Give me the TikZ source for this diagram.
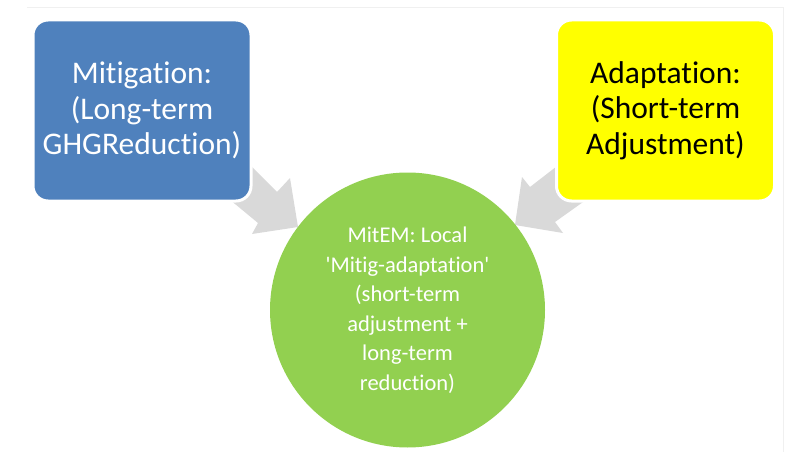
\documentclass[tikz,border=0pt]{standalone}
\usepackage{fontspec}
\setmainfont{Carlito}[Ligatures={TeXOff,NoCommon}]
\definecolor{mitblue}{HTML}{4F81BD}
\definecolor{adaptyellow}{HTML}{FFFF00}
\definecolor{mixgreen}{HTML}{92D050}
\definecolor{arrowgrey}{HTML}{D9D9D9}
\definecolor{frameline}{HTML}{F0F0F0}
\tikzset{
  sidebox/.style={rounded corners=15pt, draw=white, line width=3pt,
    minimum width=218pt, minimum height=181pt, align=center,
    font=\fontsize{31.5}{35.5}\selectfont, inner sep=0pt},
  hubcircle/.style={circle, fill=mixgreen, minimum size=275pt, align=center,
    text=white, font=\fontsize{22.5}{29.5}\selectfont, inner sep=0pt},
  blockarrow/.style={fill=arrowgrey, draw=none}
}
\begin{document}
\begin{tikzpicture}[x=1pt, y=-1pt]
  \useasboundingbox (0,0) rectangle (788,452);
  % thin frame along the top and right
  \draw[frameline, line width=1pt] (27,8) -- (783,8) -- (783,452);

  % grey block arrows, tails hidden under the boxes
  \fill[blockarrow] (223,138) -- (277,192) -- (290,178) -- (298,227)
        -- (252,234) -- (258,223) -- (200,175) -- cycle;
  \fill[blockarrow] (583,146) -- (530,187) -- (522,177) -- (515,225)
        -- (563,233) -- (555,222) -- (607,185) -- cycle;

  % side boxes
  \node[sidebox, fill=mitblue, text=white] (mit) at (142,110.5)
    {Mitigation:\\(Long-term\\GHGReduction)};
  \node[sidebox, fill=adaptyellow, text=black] (adapt) at (665.5,110.5)
    {Adaptation:\\(Short-term\\Adjustment)};

  % central circle
  \node[hubcircle] (hub) at (407.5,310)
    {MitEM: Local\\'Mitig-adaptation'\\(short-term\\adjustment +\\long-term\\reduction)};
\end{tikzpicture}
\end{document}
